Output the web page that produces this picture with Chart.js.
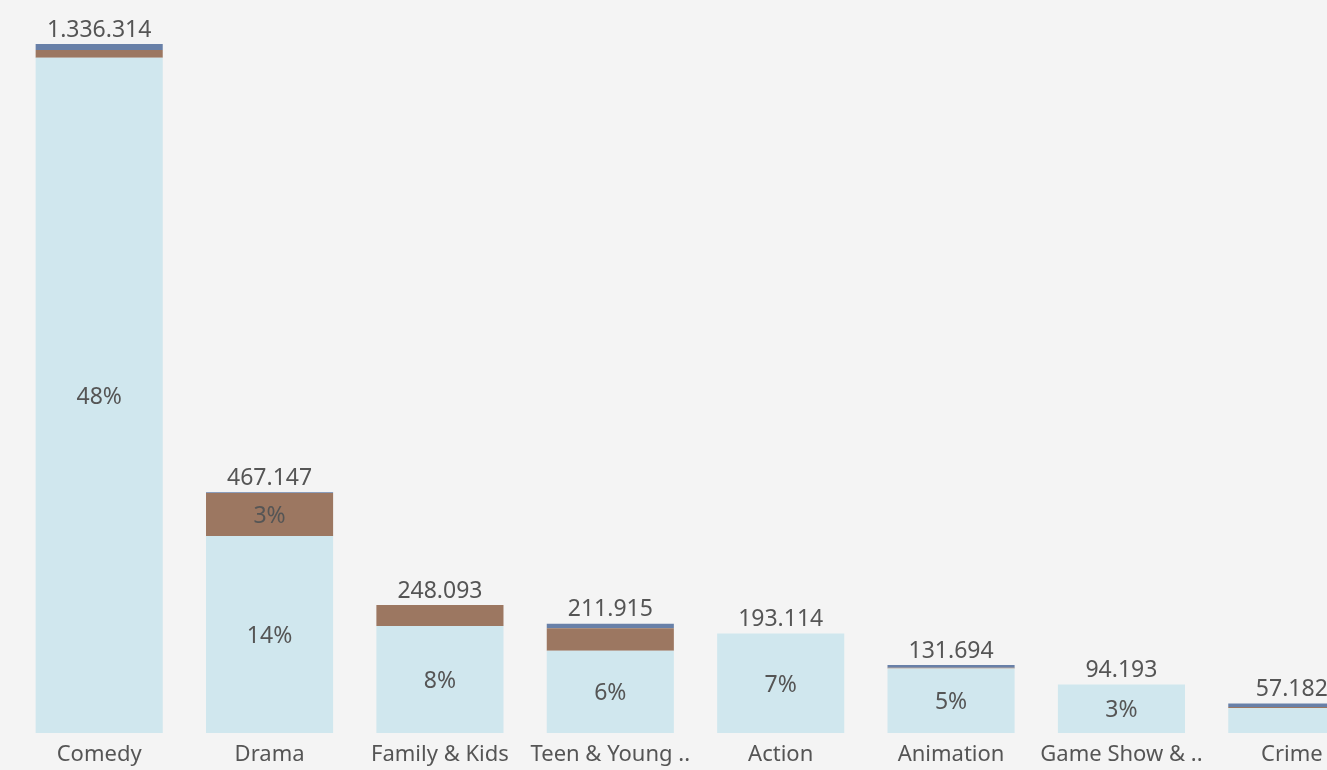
<!DOCTYPE html>
<html>
<head>
<meta charset="utf-8">
<script src="https://cdn.jsdelivr.net/npm/chart.js@4"></script>
<style>
  html, body { margin: 0; padding: 0; background: #f4f4f4; overflow: hidden; }
  #wrap { width: 1380px; height: 770px; }
</style>
</head>
<body>
<div id="wrap"><canvas id="genreChart" width="1380" height="770"></canvas></div>
<script>
// Categories and the three stacked segments (bottom to top)
const categories = ['Comedy', 'Drama', 'Family & Kids', 'Teen & Young ..', 'Action', 'Animation', 'Game Show & ..', 'Crime'];
const lightValues = [1309714, 382147, 207393, 159515, 193114, 124994, 94193, 48382];
const brownValues = [15000, 83500, 40700, 43500, 0, 1500, 0, 2000];
const slateValues = [11600, 1500, 0, 8900, 0, 5200, 0, 6800];

const textColor = '#555555';
const fontFamily = '"Noto Sans", "Open Sans", sans-serif';

const totals = categories.map((c, i) => lightValues[i] + brownValues[i] + slateValues[i]);
const grandTotal = totals.reduce((a, b) => a + b, 0);

const fmt = n => n.toString().replace(/\B(?=(\d{3})+(?!\d))/g, '.');

// Draws totals, percentages inside segments and category names
const labelPlugin = {
    id: 'labels',
    afterDatasetsDraw(chart) {
        const ctx = chart.ctx;
        const x = chart.scales.x;
        const y = chart.scales.y;
        ctx.save();
        ctx.fillStyle = textColor;
        ctx.textAlign = 'center';
        ctx.textBaseline = 'middle';
        ctx.font = '23px ' + fontFamily;

        chart.data.datasets.forEach((ds, di) => {
            const meta = chart.getDatasetMeta(di);
            meta.data.forEach((bar, i) => {
                const v = ds.data[i];
                const h = Math.abs(bar.base - bar.y);
                if (v > 0 && h >= 30) {
                    const pct = Math.round(v / grandTotal * 100) + '%';
                    ctx.fillText(pct, bar.x, (bar.y + bar.base) / 2 + 2);
                }
            });
        });

        totals.forEach((t, i) => {
            ctx.fillText(fmt(t), x.getPixelForValue(i), y.getPixelForValue(t) - 14);
        });

        ctx.font = '22px ' + fontFamily;
        categories.forEach((c, i) => {
            ctx.fillText(c, x.getPixelForValue(i), 755);
        });
        ctx.restore();
    }
};

const ctx = document.getElementById('genreChart').getContext('2d');
const genreChart = new Chart(ctx, {
    type: 'bar',
    data: {
        labels: categories,
        datasets: [
            { label: 'Light', data: lightValues, backgroundColor: '#d0e7ee' },
            { label: 'Brown', data: brownValues, backgroundColor: '#9c7761' },
            { label: 'Slate', data: slateValues, backgroundColor: '#6880a8' }
        ]
    },
    options: {
        responsive: false,
        animation: false,
        devicePixelRatio: 1,
        layout: {
            padding: { left: 14, right: 3, top: 0, bottom: 37 }
        },
        datasets: {
            bar: { barPercentage: 0.746, categoryPercentage: 1, borderWidth: 0 }
        },
        scales: {
            x: { stacked: true, display: false },
            y: { stacked: true, display: false, min: 0, max: 1421600 }
        },
        plugins: {
            legend: { display: false },
            tooltip: { enabled: false }
        }
    },
    plugins: [labelPlugin]
});
</script>
</body>
</html>
